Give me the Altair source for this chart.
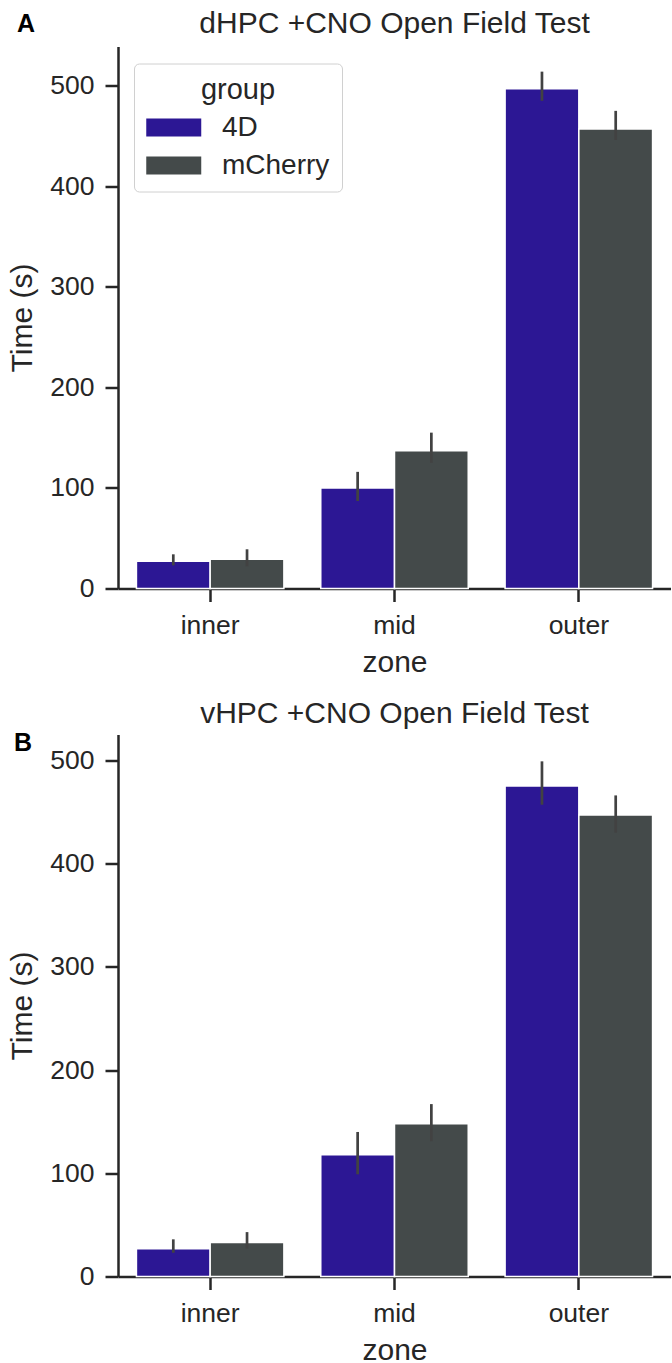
import altair as alt
import pandas as pd

# Categories
zones = ["inner", "mid", "outer"]
groups = ["4D", "mCherry"]

# dHPC panel: mean time per zone with 95% CI bounds
dhpc_4d_mean = [27, 100, 497]
dhpc_4d_lo = [23, 87, 485]
dhpc_4d_hi = [34, 116, 514]
dhpc_mch_mean = [29, 137, 457]
dhpc_mch_lo = [22, 125, 446]
dhpc_mch_hi = [39, 155, 475]

# vHPC panel
vhpc_4d_mean = [27, 118, 475]
vhpc_4d_lo = [23, 99, 457]
vhpc_4d_hi = [36, 140, 499]
vhpc_mch_mean = [33, 148, 447]
vhpc_mch_lo = [27, 131, 430]
vhpc_mch_hi = [43, 167, 466]

y_ticks = [0, 100, 200, 300, 400, 500]

BLUE = "#2c1794"
GRAY = "#444a4a"
INK = "#262626"
FONT = "Liberation Sans"
W, H = 553, 542


def make_frame(m4, l4, h4, mm, lm, hm):
    rows = []
    for i, z in enumerate(zones):
        rows.append({"zone": z, "group": "4D", "mean": m4[i], "lo": l4[i], "hi": h4[i]})
        rows.append({"zone": z, "group": "mCherry", "mean": mm[i], "lo": lm[i], "hi": hm[i]})
    return pd.DataFrame(rows)


def panel(df, title, letter, ymax, title_y, letter_x, letter_y):
    base = alt.Chart(df).encode(
        x=alt.X(
            "zone:N",
            sort=zones,
            scale=alt.Scale(paddingInner=0.2, paddingOuter=0.1),
            axis=alt.Axis(title="zone", labelAngle=0),
        ),
        xOffset=alt.XOffset("group:N", sort=groups, scale=alt.Scale(paddingInner=0, paddingOuter=0)),
    )
    bars = base.mark_bar(stroke="white", strokeWidth=1.5).encode(
        y=alt.Y(
            "mean:Q",
            scale=alt.Scale(domain=[0, ymax], nice=False, zero=True),
            axis=alt.Axis(title="Time (s)", values=y_ticks),
        ),
        color=alt.Color(
            "group:N",
            sort=groups,
            scale=alt.Scale(domain=groups, range=[BLUE, GRAY]),
            legend=alt.Legend(
                title="group",
                orient="none",
                legendX=16,
                legendY=17,
                fillColor="white",
                strokeColor="#d0d0d0",
                cornerRadius=5,
                padding=12,
                titleFontSize=29,
                titleFontWeight="normal",
                titleFont=FONT,
                titleColor=INK,
                titleAnchor="middle",
                titlePadding=9,
                labelFontSize=28,
                labelFont=FONT,
                labelColor=INK,
                labelOffset=48,
                rowPadding=10,
                symbolType="M-1,-0.65L3,-0.65L3,0.65L-1,0.65Z",
                symbolSize=756,
                symbolStrokeWidth=0,
                symbolOpacity=1,
            ),
        ),
    )
    err = base.mark_rule(color="#424242", strokeWidth=2.7).encode(
        y="lo:Q",
        y2="hi:Q",
    )
    head = alt.Chart(pd.DataFrame({"t": [title]})).mark_text(
        font=FONT, fontSize=30, color=INK, align="center", baseline="alphabetic"
    ).encode(text="t:N", x=alt.value(W / 2), y=alt.value(title_y))
    tag = alt.Chart(pd.DataFrame({"t": [letter]})).mark_text(
        font=FONT, fontSize=25, fontWeight="bold", color="black", align="center", baseline="middle"
    ).encode(text="t:N", x=alt.value(letter_x), y=alt.value(letter_y))
    return alt.layer(bars, err, head, tag).properties(width=W, height=H)


df_d = make_frame(dhpc_4d_mean, dhpc_4d_lo, dhpc_4d_hi, dhpc_mch_mean, dhpc_mch_lo, dhpc_mch_hi)
df_v = make_frame(vhpc_4d_mean, vhpc_4d_lo, vhpc_4d_hi, vhpc_mch_mean, vhpc_mch_lo, vhpc_mch_hi)

top = panel(df_d, "dHPC +CNO Open Field Test", "A", 539, -14, -92, -23)
bottom = panel(df_v, "vHPC +CNO Open Field Test", "B", 525, -12, -95, 8)

chart = (
    alt.vconcat(top, bottom, spacing=21)
    .resolve_scale(y="independent")
    .properties(padding={"left": 7, "top": 8.5, "right": 0, "bottom": 3}, background="white")
    .configure_view(strokeWidth=0)
    .configure_axis(
        grid=False,
        domainColor=INK,
        domainWidth=2.5,
        tickColor=INK,
        tickWidth=2.5,
        tickSize=13,
        labelFont=FONT,
        labelFontSize=26.5,
        labelColor=INK,
        labelPadding=11,
        titleFont=FONT,
        titleFontSize=30,
        titleFontWeight="normal",
        titleColor=INK,
    )
    .configure_axisY(titlePadding=12)
    .configure_axisX(titlePadding=8)
)

chart.save("out.html", embed_options={"renderer": "svg", "actions": False})
